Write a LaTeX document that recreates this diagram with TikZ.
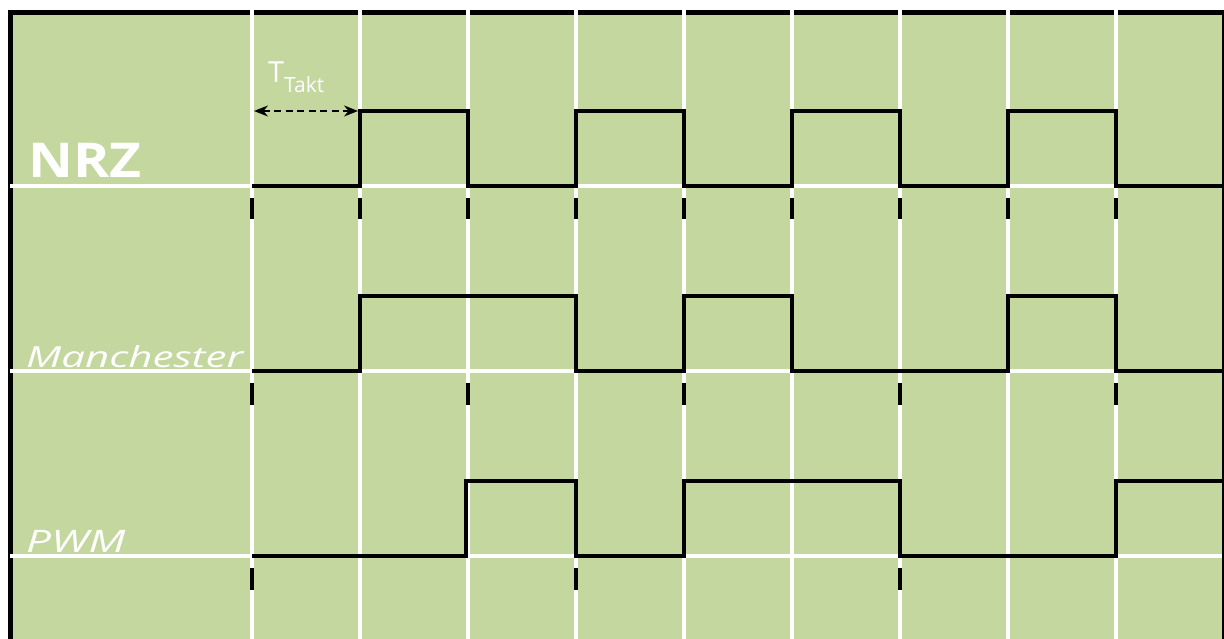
\documentclass[tikz,border=0pt]{standalone}
\usepackage{fontspec}
\setmainfont{Open Sans}
\usetikzlibrary{arrows.meta}
\definecolor{feld}{RGB}{196,215,159}

\begin{document}
\begin{tikzpicture}[x=1pt,y=-1pt,
	gitter/.style={white,line width=3.5pt},
	signal/.style={black,line width=3.5pt,line join=miter},
	marke/.style={black,line width=4.5pt},
	beschriftung/.style={white,anchor=base west,inner sep=0pt}]
	\useasboundingbox (0,0) rectangle (1224,639);
	\fill[white] (0,0) rectangle (1224,639);
	\fill[feld] (11,13) rectangle (1224,639);

	% Rahmen
	\draw[line width=5pt] (10.8,639) -- (10.8,13) -- (1224,13);
	\draw[line width=1.6pt] (1223.2,13) -- (1223.2,639);

	% Raster
	\foreach \x in {252,360,...,1116}
		\draw[gitter] (\x,10) -- (\x,639);
	\foreach \y in {186,371,556}
		\draw[gitter] (10,\y) -- (1222,\y);

	% Signale
	\draw[signal] (252,186) -| (360,111) -| (468,186) -| (576,111) -| (684,186) -| (792,111) -| (900,186) -| (1008,111) -| (1116,186) -- (1222,186);
	\draw[signal] (252,371) -| (360,296) -| (576,371) -| (684,296) -| (792,371) -| (1008,296) -| (1116,371) -- (1222,371);
	\draw[signal] (252,556) -| (466,481) -| (576,556) -| (684,481) -| (900,556) -| (1116,481) -- (1222,481);

	% Taktmarken
	\foreach \x in {252,360,...,1116}
		\draw[marke] (\x,198) -- (\x,219);
	\foreach \x in {252,468,...,1116}
		\draw[marke] (\x,383) -- (\x,405);
	\foreach \x in {252,576,900}
		\draw[marke] (\x,568) -- (\x,590);

	% Taktperiode
	\coordinate (takt-a) at (254,111);
	\coordinate (takt-b) at (358,111);
	\draw[{Stealth[length=14pt,width=11pt]}-{Stealth[length=14pt,width=11pt]},line width=1.8pt,dash pattern=on 7pt off 4.5pt] (takt-a) -- (takt-b);
	\node[beschriftung,font=\fontsize{29}{31}\selectfont] (takt) at (268,83) {T\raisebox{-10pt}{\fontsize{21}{22}\selectfont Takt}};

	% Bezeichnungen
	\node[beschriftung,font=\fontsize{48}{50}\selectfont\bfseries] (nrz) at (28,178) {\scalebox{1.15}[1]{NRZ}};
	\node[beschriftung,font=\fontsize{29}{31}\selectfont\itshape] (manchester) at (26,367) {\scalebox{1.45}[1]{Manchester}};
	\node[beschriftung,font=\fontsize{31}{33}\selectfont\itshape] (pwm) at (26,552) {\scalebox{1.42}[1]{PWM}};
\end{tikzpicture}
\end{document}
